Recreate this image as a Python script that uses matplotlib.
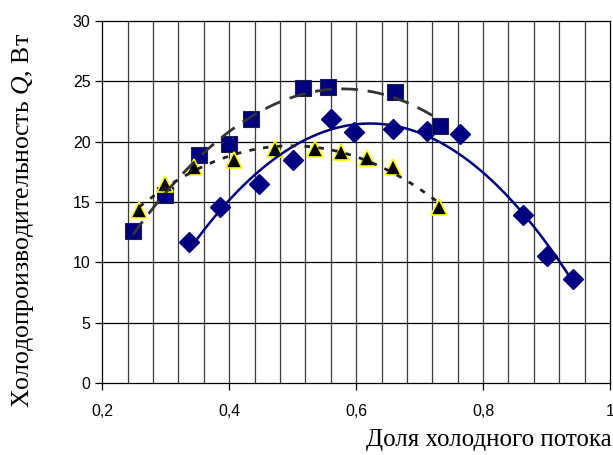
import numpy as np
import matplotlib
matplotlib.use("Agg")
import matplotlib.pyplot as plt

plt.rcParams['mathtext.fontset'] = 'custom'
plt.rcParams['mathtext.rm'] = 'Liberation Serif'
plt.rcParams['mathtext.it'] = 'Liberation Serif:italic'

# Measured series: cold-flow fraction vs. cooling capacity
sq_x = [0.248, 0.298, 0.352, 0.400, 0.434, 0.516, 0.556, 0.661, 0.732]
sq_y = [12.6, 15.6, 18.9, 19.8, 21.9, 24.4, 24.5, 24.1, 21.3]

dia_x = [0.336, 0.385, 0.447, 0.500, 0.560, 0.596, 0.658, 0.712, 0.764, 0.863, 0.900, 0.942]
dia_y = [11.7, 14.6, 16.5, 18.5, 21.9, 20.8, 21.0, 20.9, 20.6, 13.9, 10.5, 8.6]

tri_x = [0.258, 0.298, 0.344, 0.408, 0.472, 0.535, 0.576, 0.617, 0.658, 0.730]
tri_y = [14.3, 16.5, 17.9, 18.5, 19.4, 19.4, 19.1, 18.6, 17.9, 14.6]

x_ticks = [0.2, 0.4, 0.6, 0.8, 1.0]
x_ticklabels = ['0,2', '0,4', '0,6', '0,8', '1']
y_ticks = [0, 5, 10, 15, 20, 25, 30]

navy = '#000080'

fig = plt.figure(figsize=(6.13, 4.55), dpi=100)
ax = fig.add_axes([0.1669, 0.1576, 0.9951 - 0.1669, 0.9545 - 0.1576])

ax.set_xlim(0.2, 1.0)
ax.set_ylim(0, 30)

# grid: vertical lines every 0.04, horizontal every 5
for gx in np.arange(0.24, 1.0, 0.04):
    ax.axvline(gx, color='#3a3a3a', lw=0.9, zorder=0)
for gy in y_ticks[1:-1]:
    ax.axhline(gy, color='black', lw=0.9, zorder=0)

# markers
ax.plot(dia_x, dia_y, linestyle='none', marker='D', ms=9.8, mfc=navy, mec=navy, zorder=3)
ax.plot(sq_x, sq_y, linestyle='none', marker='s', ms=11, mfc=navy, mec='#202040', mew=0.8, zorder=3)
ax.plot(tri_x, tri_y, linestyle='none', marker='^', ms=11, mfc='black', mec='#ffff00', mew=1.2, zorder=4)

# quadratic trend lines
def trend(xs, ys, x0, x1):
    c = np.polyfit(xs, ys, 2)
    xx = np.linspace(x0, x1, 200)
    return xx, np.polyval(c, xx)

xx, yy = trend(dia_x, dia_y, dia_x[0], dia_x[-1])
ax.plot(xx, yy, color=navy, lw=1.8, zorder=5)
xx, yy = trend(sq_x, sq_y, sq_x[0], sq_x[-1])
ax.plot(xx, yy, color='#333333', lw=2.0, dashes=(6, 3.5), zorder=5)
xx, yy = trend(tri_x, tri_y, tri_x[0], tri_x[-1])
ax.plot(xx, yy, color='#222222', lw=2.0, dashes=(2, 3), zorder=5)

ax.set_xticks(x_ticks)
ax.set_xticklabels(x_ticklabels)
ax.set_yticks(y_ticks)
ax.tick_params(axis='both', direction='out', length=5, width=0.9, color='black',
               labelsize=11.5)
ax.tick_params(axis='x', pad=10)
for lab in ax.get_xticklabels() + ax.get_yticklabels():
    lab.set_fontfamily('Liberation Sans')

for side in ['top', 'right', 'bottom', 'left']:
    ax.spines[side].set_color('black')
    ax.spines[side].set_linewidth(0.9)

fig.text(0.998, 0.008, 'Доля холодного потока', ha='right', va='bottom',
         fontsize=18, family='Liberation Serif')
fig.text(0.038, 0.516, r'Холодопроизводительность $Q$, Вт', rotation=90,
         ha='center', va='center', fontsize=18.5, family='Liberation Serif')

fig.savefig('out.png', dpi=100)
